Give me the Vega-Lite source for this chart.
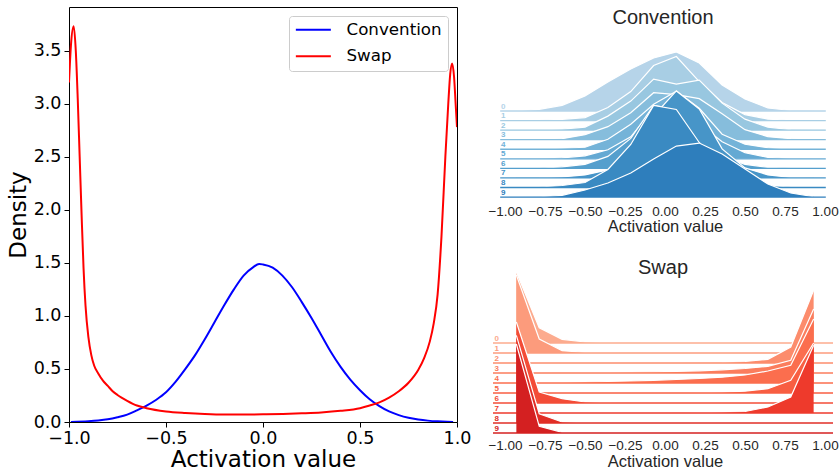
{
"$schema": "https://vega.github.io/schema/vega-lite/v6.json",
"padding": {"left": 6, "top": 6, "right": 0, "bottom": 0},
"background": "white",
"config": {"view": {"stroke": null}, "axis": {"grid": false, "labelOverlap": false}},
"spacing": 15,
"resolve": {"scale": {"color": "independent", "x": "independent", "y": "independent"}},
"hconcat": [
{
"width": 388, "height": 415,
"view": {"stroke": "#000000", "strokeWidth": 1},
"data": {"values": [
{"s":"Convention","x":-0.99,"d":0.001},{"s":"Convention","x":-0.9,"d":0.008},{"s":"Convention","x":-0.85,"d":0.015},{"s":"Convention","x":-0.8,"d":0.026},{"s":"Convention","x":-0.75,"d":0.045},{"s":"Convention","x":-0.7,"d":0.07},{"s":"Convention","x":-0.65,"d":0.11},{"s":"Convention","x":-0.6,"d":0.155},{"s":"Convention","x":-0.55,"d":0.21},{"s":"Convention","x":-0.5,"d":0.28},{"s":"Convention","x":-0.45,"d":0.38},{"s":"Convention","x":-0.4,"d":0.5},{"s":"Convention","x":-0.35,"d":0.63},{"s":"Convention","x":-0.3,"d":0.78},{"s":"Convention","x":-0.25,"d":0.94},{"s":"Convention","x":-0.2,"d":1.1},{"s":"Convention","x":-0.15,"d":1.25},{"s":"Convention","x":-0.1,"d":1.38},{"s":"Convention","x":-0.05,"d":1.46},{"s":"Convention","x":-0.02,"d":1.49},{"s":"Convention","x":0.0,"d":1.485},{"s":"Convention","x":0.05,"d":1.455},{"s":"Convention","x":0.1,"d":1.38},{"s":"Convention","x":0.15,"d":1.27},{"s":"Convention","x":0.2,"d":1.13},{"s":"Convention","x":0.25,"d":0.98},{"s":"Convention","x":0.3,"d":0.82},{"s":"Convention","x":0.35,"d":0.66},{"s":"Convention","x":0.4,"d":0.52},{"s":"Convention","x":0.45,"d":0.4},{"s":"Convention","x":0.5,"d":0.3},{"s":"Convention","x":0.55,"d":0.215},{"s":"Convention","x":0.6,"d":0.15},{"s":"Convention","x":0.65,"d":0.1},{"s":"Convention","x":0.7,"d":0.065},{"s":"Convention","x":0.75,"d":0.04},{"s":"Convention","x":0.8,"d":0.024},{"s":"Convention","x":0.85,"d":0.013},{"s":"Convention","x":0.9,"d":0.006},{"s":"Convention","x":0.95,"d":0.002},{"s":"Convention","x":0.98,"d":0.001},
{"s":"Swap","x":-1.0,"d":3.2},{"s":"Swap","x":-0.99,"d":3.55},{"s":"Swap","x":-0.976,"d":3.73},{"s":"Swap","x":-0.965,"d":3.5},{"s":"Swap","x":-0.955,"d":3.05},{"s":"Swap","x":-0.945,"d":2.5},{"s":"Swap","x":-0.935,"d":1.95},{"s":"Swap","x":-0.925,"d":1.45},{"s":"Swap","x":-0.915,"d":1.1},{"s":"Swap","x":-0.9,"d":0.8},{"s":"Swap","x":-0.885,"d":0.63},{"s":"Swap","x":-0.87,"d":0.53},{"s":"Swap","x":-0.85,"d":0.46},{"s":"Swap","x":-0.825,"d":0.39},{"s":"Swap","x":-0.8,"d":0.34},{"s":"Swap","x":-0.775,"d":0.29},{"s":"Swap","x":-0.75,"d":0.255},{"s":"Swap","x":-0.7,"d":0.2},{"s":"Swap","x":-0.65,"d":0.155},{"s":"Swap","x":-0.6,"d":0.13},{"s":"Swap","x":-0.5,"d":0.1},{"s":"Swap","x":-0.4,"d":0.085},{"s":"Swap","x":-0.3,"d":0.075},{"s":"Swap","x":-0.2,"d":0.07},{"s":"Swap","x":-0.1,"d":0.07},{"s":"Swap","x":0.0,"d":0.072},{"s":"Swap","x":0.1,"d":0.076},{"s":"Swap","x":0.2,"d":0.082},{"s":"Swap","x":0.3,"d":0.09},{"s":"Swap","x":0.4,"d":0.105},{"s":"Swap","x":0.5,"d":0.13},{"s":"Swap","x":0.55,"d":0.155},{"s":"Swap","x":0.6,"d":0.185},{"s":"Swap","x":0.65,"d":0.23},{"s":"Swap","x":0.7,"d":0.29},{"s":"Swap","x":0.75,"d":0.37},{"s":"Swap","x":0.8,"d":0.49},{"s":"Swap","x":0.83,"d":0.6},{"s":"Swap","x":0.86,"d":0.76},{"s":"Swap","x":0.88,"d":0.93},{"s":"Swap","x":0.9,"d":1.2},{"s":"Swap","x":0.92,"d":1.75},{"s":"Swap","x":0.94,"d":2.5},{"s":"Swap","x":0.955,"d":3.0},{"s":"Swap","x":0.965,"d":3.28},{"s":"Swap","x":0.975,"d":3.38},{"s":"Swap","x":0.985,"d":3.25},{"s":"Swap","x":0.993,"d":3.0},{"s":"Swap","x":1.0,"d":2.78}
]},
"mark": {"type": "line", "strokeWidth": 2, "interpolate": "monotone", "clip": true},
"encoding": {
"x": {"field": "x", "type": "quantitative", "scale": {"domain": [-1, 1], "nice": false, "zero": false},
 "axis": {"values": [-1, -0.5, 0, 0.5, 1], "tickCount": 20, "format": ".1f", "labelFlush": false, "labelOverlap": false, "domain": false, "tickColor": "#000000", "tickSize": 5, "tickWidth": 1, "labelFont": "DejaVu Sans", "labelFontSize": 17.5, "labelColor": "#000000", "labelPadding": 2, "title": "Activation value", "titleFont": "DejaVu Sans", "titleFontSize": 23, "titleFontWeight": "normal", "titleColor": "#000000", "titlePadding": 2}},
"y": {"field": "d", "type": "quantitative", "scale": {"domain": [0, 3.912], "nice": false},
 "axis": {"values": [0, 0.5, 1, 1.5, 2, 2.5, 3, 3.5], "tickCount": 20, "format": ".1f", "labelFlush": false, "labelOverlap": false, "domain": false, "tickColor": "#000000", "tickSize": 5, "tickWidth": 1, "labelFont": "DejaVu Sans", "labelFontSize": 17.5, "labelColor": "#000000", "labelPadding": 3, "title": "Density", "titleFont": "DejaVu Sans", "titleFontSize": 23, "titleFontWeight": "normal", "titleColor": "#000000", "titlePadding": 3}},
"color": {"field": "s", "type": "nominal", "scale": {"domain": ["Convention", "Swap"], "range": ["#0000ff", "#ff0000"]},
 "legend": {"title": null, "orient": "top-right", "offset": 9, "labelFont": "DejaVu Sans", "labelFontSize": 16.7, "labelColor": "#000000", "symbolType": "M-1.75,0H7", "symbolSize": 64, "symbolStrokeWidth": 2, "symbolFillColor": "transparent", "strokeColor": "#cccccc", "fillColor": "#ffffff", "padding": 5.5, "cornerRadius": 3, "rowPadding": 8.5, "labelOffset": 35.3}}
}
},
{
"vconcat": [
{
"vconcat": [
{"width": 320, "height": 1, "data": {"values": []}, "mark": "point", "encoding": {}},
{
"title": {"text": "Convention", "font": "Liberation Sans", "fontSize": 20, "fontWeight": "normal", "color": "#262626", "offset": 21.3, "anchor": "middle"},
"data": {"values": [
{"r":0,"x":-0.929,"d":0.015},{"r":0,"x":-0.786,"d":0.085},{"r":0,"x":-0.643,"d":0.285},{"r":0,"x":-0.5,"d":0.75},{"r":0,"x":-0.357,"d":1.45},{"r":0,"x":-0.214,"d":2.1},{"r":0,"x":-0.071,"d":2.65},{"r":0,"x":0.071,"d":2.95},{"r":0,"x":0.214,"d":2.4},{"r":0,"x":0.357,"d":1.3},{"r":0,"x":0.5,"d":0.6},{"r":0,"x":0.643,"d":0.15},{"r":0,"x":0.786,"d":0.025},{"r":0,"x":0.929,"d":0.01},
{"r":1,"x":-0.929,"d":0.01},{"r":1,"x":-0.786,"d":0.025},{"r":1,"x":-0.643,"d":0.06},{"r":1,"x":-0.5,"d":0.15},{"r":1,"x":-0.357,"d":0.65},{"r":1,"x":-0.214,"d":1.45},{"r":1,"x":-0.071,"d":2.75},{"r":1,"x":0.071,"d":3.2},{"r":1,"x":0.214,"d":1.95},{"r":1,"x":0.357,"d":0.9},{"r":1,"x":0.5,"d":0.3},{"r":1,"x":0.643,"d":0.075},{"r":1,"x":0.786,"d":0.015},{"r":1,"x":0.929,"d":0.005},
{"r":2,"x":-0.929,"d":0.01},{"r":2,"x":-0.786,"d":0.02},{"r":2,"x":-0.643,"d":0.05},{"r":2,"x":-0.5,"d":0.15},{"r":2,"x":-0.357,"d":0.7},{"r":2,"x":-0.214,"d":1.45},{"r":2,"x":-0.071,"d":2.55},{"r":2,"x":0.071,"d":2.3},{"r":2,"x":0.214,"d":2.5},{"r":2,"x":0.357,"d":1.35},{"r":2,"x":0.5,"d":0.55},{"r":2,"x":0.643,"d":0.15},{"r":2,"x":0.786,"d":0.025},{"r":2,"x":0.929,"d":0.005},
{"r":3,"x":-0.929,"d":0.005},{"r":3,"x":-0.786,"d":0.015},{"r":3,"x":-0.643,"d":0.05},{"r":3,"x":-0.5,"d":0.25},{"r":3,"x":-0.357,"d":0.65},{"r":3,"x":-0.214,"d":1.35},{"r":3,"x":-0.071,"d":2.35},{"r":3,"x":0.071,"d":2.25},{"r":3,"x":0.214,"d":2.05},{"r":3,"x":0.357,"d":1.3},{"r":3,"x":0.5,"d":0.5},{"r":3,"x":0.643,"d":0.15},{"r":3,"x":0.786,"d":0.05},{"r":3,"x":0.929,"d":0.005},
{"r":4,"x":-0.929,"d":0.005},{"r":4,"x":-0.786,"d":0.015},{"r":4,"x":-0.643,"d":0.05},{"r":4,"x":-0.5,"d":0.1},{"r":4,"x":-0.357,"d":0.5},{"r":4,"x":-0.214,"d":1.25},{"r":4,"x":-0.071,"d":2.25},{"r":4,"x":0.071,"d":2.9},{"r":4,"x":0.214,"d":2.05},{"r":4,"x":0.357,"d":0.75},{"r":4,"x":0.5,"d":0.25},{"r":4,"x":0.643,"d":0.075},{"r":4,"x":0.786,"d":0.015},{"r":4,"x":0.929,"d":0.005},
{"r":5,"x":-0.929,"d":0.005},{"r":5,"x":-0.786,"d":0.015},{"r":5,"x":-0.643,"d":0.05},{"r":5,"x":-0.5,"d":0.15},{"r":5,"x":-0.357,"d":0.45},{"r":5,"x":-0.214,"d":1.1},{"r":5,"x":-0.071,"d":2.5},{"r":5,"x":0.071,"d":2.8},{"r":5,"x":0.214,"d":1.75},{"r":5,"x":0.357,"d":0.85},{"r":5,"x":0.5,"d":0.3},{"r":5,"x":0.643,"d":0.075},{"r":5,"x":0.786,"d":0.015},{"r":5,"x":0.929,"d":0.005},
{"r":6,"x":-0.929,"d":0.005},{"r":6,"x":-0.786,"d":0.015},{"r":6,"x":-0.643,"d":0.075},{"r":6,"x":-0.5,"d":0.2},{"r":6,"x":-0.357,"d":0.6},{"r":6,"x":-0.214,"d":1.5},{"r":6,"x":-0.071,"d":3.15},{"r":6,"x":0.071,"d":2.95},{"r":6,"x":0.214,"d":1.3},{"r":6,"x":0.357,"d":0.6},{"r":6,"x":0.5,"d":0.2},{"r":6,"x":0.643,"d":0.05},{"r":6,"x":0.786,"d":0.015},{"r":6,"x":0.929,"d":0.005},
{"r":7,"x":-0.929,"d":0.005},{"r":7,"x":-0.786,"d":0.01},{"r":7,"x":-0.643,"d":0.05},{"r":7,"x":-0.5,"d":0.15},{"r":7,"x":-0.357,"d":0.4},{"r":7,"x":-0.214,"d":1.25},{"r":7,"x":-0.071,"d":3.1},{"r":7,"x":0.071,"d":4.35},{"r":7,"x":0.214,"d":3.45},{"r":7,"x":0.357,"d":1.45},{"r":7,"x":0.5,"d":0.5},{"r":7,"x":0.643,"d":0.15},{"r":7,"x":0.786,"d":0.025},{"r":7,"x":0.929,"d":0.005},
{"r":8,"x":-0.929,"d":0.005},{"r":8,"x":-0.786,"d":0.025},{"r":8,"x":-0.643,"d":0.1},{"r":8,"x":-0.5,"d":0.25},{"r":8,"x":-0.357,"d":0.9},{"r":8,"x":-0.214,"d":2.15},{"r":8,"x":-0.071,"d":4.1},{"r":8,"x":0.071,"d":3.9},{"r":8,"x":0.214,"d":2.25},{"r":8,"x":0.357,"d":0.9},{"r":8,"x":0.5,"d":0.4},{"r":8,"x":0.643,"d":0.1},{"r":8,"x":0.786,"d":0.025},{"r":8,"x":0.929,"d":0.005},
{"r":9,"x":-0.929,"d":0.005},{"r":9,"x":-0.786,"d":0.015},{"r":9,"x":-0.643,"d":0.085},{"r":9,"x":-0.5,"d":0.35},{"r":9,"x":-0.357,"d":0.7},{"r":9,"x":-0.214,"d":1.2},{"r":9,"x":-0.071,"d":1.9},{"r":9,"x":0.071,"d":2.55},{"r":9,"x":0.214,"d":2.7},{"r":9,"x":0.357,"d":2.15},{"r":9,"x":0.5,"d":1.4},{"r":9,"x":0.643,"d":0.65},{"r":9,"x":0.786,"d":0.2},{"r":9,"x":0.929,"d":0.025}
]},
"facet": {"row": {"field": "r", "type": "ordinal", "header": null}},
"spacing": {"row": 0.56},
"bounds": "flush",
"spec": {
"width": 320, "height": 9,
"layer": [
{"mark": {"type": "area", "interpolate": "linear"},
 "encoding": {
 "x": {"field": "x", "type": "quantitative", "scale": {"domain": [-1, 1], "nice": false, "zero": false},
  "axis": {"values": [-1, -0.75, -0.5, -0.25, 0, 0.25, 0.5, 0.75, 1], "tickCount": 20, "format": ".2f", "labelFlush": false, "labelOverlap": false, "domain": false, "ticks": false, "labelFont": "Liberation Sans", "labelFontSize": 13.5, "labelColor": "#262626", "labelPadding": 6, "title": "Activation value", "titleFont": "Liberation Sans", "titleFontSize": 16.5, "titleFontWeight": "normal", "titleColor": "#262626", "titlePadding": 1}},
 "y": {"field": "d", "type": "quantitative", "scale": {"domain": [0, 1], "range": [9, -11]}, "axis": null},
 "color": {"field": "r", "type": "ordinal", "scale": {"range": ["#b6d4e9", "#a8cee4", "#98c7e0", "#86bddc", "#74b3d8", "#64a9d3", "#559fcd", "#4795c8", "#3a8ac2", "#2e7ebc"]}, "legend": null}}},
{"mark": {"type": "line", "color": "#ffffff", "strokeWidth": 1.2, "interpolate": "linear"},
 "encoding": {
 "x": {"field": "x", "type": "quantitative"},
 "y": {"field": "d", "type": "quantitative"}}},
{"transform": [{"filter": "datum.x < -0.9"}],
 "mark": {"type": "rule", "strokeWidth": 1.3},
 "encoding": {"x": {"datum": -1.03}, "x2": {"datum": 1.005}, "y": {"datum": 0}, "color": {"field": "r", "type": "ordinal", "legend": null}}},
{"transform": [{"filter": "datum.x < -0.9"}],
 "mark": {"type": "text", "align": "left", "baseline": "bottom", "dy": -0.5, "fontSize": 8, "fontWeight": "bold", "font": "Liberation Sans"},
 "encoding": {"x": {"datum": -1.025}, "y": {"datum": 0}, "text": {"field": "r", "type": "ordinal"}, "color": {"field": "r", "type": "ordinal", "legend": null}}}
]
}
}
],
"spacing": 0
},
{
"title": {"text": "Swap", "font": "Liberation Sans", "fontSize": 20, "fontWeight": "normal", "color": "#262626", "offset": -8.5, "anchor": "middle"},
"data": {"values": [
{"r":0,"x":-0.929,"d":3.55},{"r":0,"x":-0.786,"d":0.765},{"r":0,"x":-0.643,"d":0.185},{"r":0,"x":-0.5,"d":0.05},{"r":0,"x":-0.357,"d":0.02},{"r":0,"x":-0.214,"d":0.01},{"r":0,"x":-0.071,"d":0.005},{"r":0,"x":0.071,"d":0.005},{"r":0,"x":0.214,"d":0.005},{"r":0,"x":0.357,"d":0.005},{"r":0,"x":0.5,"d":0.01},{"r":0,"x":0.643,"d":0.015},{"r":0,"x":0.786,"d":0.03},{"r":0,"x":0.929,"d":0.05},
{"r":1,"x":-0.929,"d":3.9},{"r":1,"x":-0.786,"d":0.7},{"r":1,"x":-0.643,"d":0.115},{"r":1,"x":-0.5,"d":0.035},{"r":1,"x":-0.357,"d":0.015},{"r":1,"x":-0.214,"d":0.01},{"r":1,"x":-0.071,"d":0.005},{"r":1,"x":0.071,"d":0.005},{"r":1,"x":0.214,"d":0.005},{"r":1,"x":0.357,"d":0.005},{"r":1,"x":0.5,"d":0.005},{"r":1,"x":0.643,"d":0.01},{"r":1,"x":0.786,"d":0.02},{"r":1,"x":0.929,"d":0.04},
{"r":2,"x":-0.929,"d":0},{"r":2,"x":-0.786,"d":0},{"r":2,"x":-0.643,"d":0},{"r":2,"x":-0.5,"d":0},{"r":2,"x":-0.357,"d":0},{"r":2,"x":-0.214,"d":0},{"r":2,"x":-0.071,"d":0},{"r":2,"x":0.071,"d":0.005},{"r":2,"x":0.214,"d":0.01},{"r":2,"x":0.357,"d":0.025},{"r":2,"x":0.5,"d":0.075},{"r":2,"x":0.643,"d":0.185},{"r":2,"x":0.786,"d":0.8},{"r":2,"x":0.929,"d":3.635},
{"r":3,"x":-0.929,"d":0},{"r":3,"x":-0.786,"d":0},{"r":3,"x":-0.643,"d":0.01},{"r":3,"x":-0.5,"d":0.02},{"r":3,"x":-0.357,"d":0.03},{"r":3,"x":-0.214,"d":0.045},{"r":3,"x":-0.071,"d":0.06},{"r":3,"x":0.071,"d":0.08},{"r":3,"x":0.214,"d":0.11},{"r":3,"x":0.357,"d":0.16},{"r":3,"x":0.5,"d":0.225},{"r":3,"x":0.643,"d":0.335},{"r":3,"x":0.786,"d":0.635},{"r":3,"x":0.929,"d":3.2},
{"r":4,"x":-0.929,"d":0.005},{"r":4,"x":-0.786,"d":0.015},{"r":4,"x":-0.643,"d":0.03},{"r":4,"x":-0.5,"d":0.05},{"r":4,"x":-0.357,"d":0.075},{"r":4,"x":-0.214,"d":0.1},{"r":4,"x":-0.071,"d":0.135},{"r":4,"x":0.071,"d":0.175},{"r":4,"x":0.214,"d":0.225},{"r":4,"x":0.357,"d":0.29},{"r":4,"x":0.5,"d":0.4},{"r":4,"x":0.643,"d":0.6},{"r":4,"x":0.786,"d":0.885},{"r":4,"x":0.929,"d":3.2},
{"r":5,"x":-0.929,"d":0},{"r":5,"x":-0.786,"d":0},{"r":5,"x":-0.643,"d":0},{"r":5,"x":-0.5,"d":0},{"r":5,"x":-0.357,"d":0},{"r":5,"x":-0.214,"d":0},{"r":5,"x":-0.071,"d":0.005},{"r":5,"x":0.071,"d":0.01},{"r":5,"x":0.214,"d":0.02},{"r":5,"x":0.357,"d":0.04},{"r":5,"x":0.5,"d":0.09},{"r":5,"x":0.643,"d":0.215},{"r":5,"x":0.786,"d":0.635},{"r":5,"x":0.929,"d":2.5},
{"r":6,"x":-0.929,"d":4.05},{"r":6,"x":-0.786,"d":0.55},{"r":6,"x":-0.643,"d":0.215},{"r":6,"x":-0.5,"d":0.05},{"r":6,"x":-0.357,"d":0.02},{"r":6,"x":-0.214,"d":0.01},{"r":6,"x":-0.071,"d":0.005},{"r":6,"x":0.071,"d":0.005},{"r":6,"x":0.214,"d":0},{"r":6,"x":0.357,"d":0},{"r":6,"x":0.5,"d":0},{"r":6,"x":0.643,"d":0},{"r":6,"x":0.786,"d":0},{"r":6,"x":0.929,"d":0},
{"r":7,"x":-0.929,"d":0},{"r":7,"x":-0.786,"d":0},{"r":7,"x":-0.643,"d":0},{"r":7,"x":-0.5,"d":0},{"r":7,"x":-0.357,"d":0},{"r":7,"x":-0.214,"d":0},{"r":7,"x":-0.071,"d":0.005},{"r":7,"x":0.071,"d":0.01},{"r":7,"x":0.214,"d":0.02},{"r":7,"x":0.357,"d":0.04},{"r":7,"x":0.5,"d":0.075},{"r":7,"x":0.643,"d":0.3},{"r":7,"x":0.786,"d":0.8},{"r":7,"x":0.929,"d":3.385},
{"r":8,"x":-0.929,"d":4.385},{"r":8,"x":-0.786,"d":0.465},{"r":8,"x":-0.643,"d":0.05},{"r":8,"x":-0.5,"d":0.015},{"r":8,"x":-0.357,"d":0.005},{"r":8,"x":-0.214,"d":0},{"r":8,"x":-0.071,"d":0},{"r":8,"x":0.071,"d":0},{"r":8,"x":0.214,"d":0},{"r":8,"x":0.357,"d":0},{"r":8,"x":0.5,"d":0},{"r":8,"x":0.643,"d":0},{"r":8,"x":0.786,"d":0},{"r":8,"x":0.929,"d":0},
{"r":9,"x":-0.929,"d":4.45},{"r":9,"x":-0.786,"d":0.335},{"r":9,"x":-0.643,"d":0.035},{"r":9,"x":-0.5,"d":0.01},{"r":9,"x":-0.357,"d":0},{"r":9,"x":-0.214,"d":0},{"r":9,"x":-0.071,"d":0},{"r":9,"x":0.071,"d":0},{"r":9,"x":0.214,"d":0},{"r":9,"x":0.357,"d":0},{"r":9,"x":0.5,"d":0},{"r":9,"x":0.643,"d":0},{"r":9,"x":0.786,"d":0},{"r":9,"x":0.929,"d":0}
]},
"facet": {"row": {"field": "r", "type": "ordinal", "header": null}},
"spacing": {"row": 0},
"bounds": "flush",
"spec": {
"width": 320, "height": 10,
"layer": [
{"mark": {"type": "area", "interpolate": "linear"},
 "encoding": {
 "x": {"field": "x", "type": "quantitative", "scale": {"domain": [-1, 1], "nice": false, "zero": false},
  "axis": {"values": [-1, -0.75, -0.5, -0.25, 0, 0.25, 0.5, 0.75, 1], "tickCount": 20, "format": ".2f", "labelFlush": false, "labelOverlap": false, "domain": false, "ticks": false, "labelFont": "Liberation Sans", "labelFontSize": 13.5, "labelColor": "#262626", "labelPadding": 5, "title": "Activation value", "titleFont": "Liberation Sans", "titleFontSize": 16.5, "titleFontWeight": "normal", "titleColor": "#262626", "titlePadding": 2}},
 "y": {"field": "d", "type": "quantitative", "scale": {"domain": [0, 1], "range": [10, -10]}, "axis": null},
 "color": {"field": "r", "type": "ordinal", "scale": {"range": ["#fcab8e", "#fc9b7c", "#fc8c6c", "#fb7d5d", "#fb6e4e", "#f85e42", "#f34c37", "#ee3a2c", "#e12e26", "#d42021"]}, "legend": null}}},
{"mark": {"type": "line", "color": "#ffffff", "strokeWidth": 1.2, "interpolate": "linear"},
 "encoding": {
 "x": {"field": "x", "type": "quantitative"},
 "y": {"field": "d", "type": "quantitative"}}},
{"transform": [{"filter": "datum.x < -0.9"}],
 "mark": {"type": "rule", "strokeWidth": 1.3},
 "encoding": {"x": {"datum": -1.075}, "x2": {"datum": 1.05}, "y": {"datum": 0}, "color": {"field": "r", "type": "ordinal", "legend": null}}},
{"transform": [{"filter": "datum.x < -0.9"}],
 "mark": {"type": "text", "align": "left", "baseline": "bottom", "dy": -0.5, "fontSize": 8, "fontWeight": "bold", "font": "Liberation Sans"},
 "encoding": {"x": {"datum": -1.065}, "y": {"datum": 0}, "text": {"field": "r", "type": "ordinal"}, "color": {"field": "r", "type": "ordinal", "legend": null}}}
]
}
}
],
"spacing": 23,
"resolve": {"scale": {"color": "independent", "x": "independent", "y": "independent"}}
}
]
}
